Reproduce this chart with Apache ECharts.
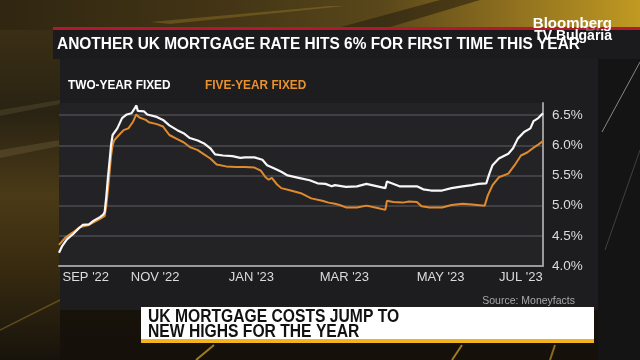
<!DOCTYPE html>
<html>
<head>
<meta charset="utf-8">
<style>
html,body{margin:0;padding:0;background:#17130c;}
#chart{width:640px;height:360px;}
</style>
<script src="https://cdn.jsdelivr.net/npm/echarts@6/dist/echarts.min.js"></script>
</head>
<body>
<div id="chart"></div>
<script>
// ---- Data ----
const titleText = 'ANOTHER UK MORTGAGE RATE HITS 6% FOR FIRST TIME THIS YEAR';
const bannerLines = ['UK MORTGAGE COSTS JUMP TO', 'NEW HIGHS FOR THE YEAR'];
const sourceText = 'Source: Moneyfacts';
const seriesNames = ['TWO-YEAR FIXED', 'FIVE-YEAR FIXED'];

const twoYearDates = [
  '2022-09-01','2022-09-03','2022-09-06','2022-09-10','2022-09-13','2022-09-16','2022-09-20','2022-09-23','2022-09-27','2022-09-29',
  '2022-09-30','2022-10-01','2022-10-02','2022-10-03','2022-10-04','2022-10-05','2022-10-08','2022-10-11','2022-10-14','2022-10-17',
  '2022-10-19','2022-10-20','2022-10-21','2022-10-25','2022-10-27','2022-11-02','2022-11-06','2022-11-10','2022-11-15','2022-11-19',
  '2022-11-23','2022-11-28','2022-12-02','2022-12-06','2022-12-09','2022-12-14','2022-12-20','2022-12-25','2022-12-28','2023-01-03',
  '2023-01-08','2023-01-11','2023-01-16','2023-01-20','2023-01-24','2023-01-31','2023-02-07','2023-02-12','2023-02-17','2023-02-21',
  '2023-02-23','2023-03-02','2023-03-09','2023-03-15','2023-03-22','2023-03-27','2023-03-28','2023-03-31','2023-04-05','2023-04-11',
  '2023-04-16','2023-04-20','2023-04-25','2023-05-02','2023-05-08','2023-05-15','2023-05-21','2023-05-25','2023-05-30','2023-06-01',
  '2023-06-03','2023-06-07','2023-06-13','2023-06-16','2023-06-19','2023-06-23','2023-06-27','2023-06-29','2023-07-02','2023-07-05'
];
const twoYearValues = [
  4.22,4.33,4.44,4.53,4.61,4.68,4.69,4.75,4.81,4.85,
  4.90,5.15,5.45,5.72,6.00,6.17,6.28,6.45,6.51,6.53,
  6.61,6.66,6.57,6.56,6.51,6.47,6.42,6.33,6.25,6.20,
  6.12,6.08,6.03,5.95,5.85,5.83,5.82,5.79,5.80,5.80,
  5.76,5.67,5.61,5.56,5.50,5.46,5.42,5.37,5.36,5.32,
  5.34,5.31,5.32,5.36,5.32,5.29,5.40,5.37,5.32,5.32,
  5.32,5.27,5.25,5.25,5.29,5.32,5.34,5.36,5.37,5.53,
  5.67,5.78,5.86,5.95,6.11,6.22,6.28,6.40,6.45,6.53
];

const fiveYearDates = [
  '2022-09-01','2022-09-05','2022-09-10','2022-09-14','2022-09-20','2022-09-27','2022-09-30','2022-10-01','2022-10-02','2022-10-03',
  '2022-10-04','2022-10-05','2022-10-06','2022-10-09','2022-10-12','2022-10-15','2022-10-18','2022-10-20','2022-10-22','2022-10-26',
  '2022-10-28','2022-11-02','2022-11-06','2022-11-10','2022-11-15','2022-11-19','2022-11-23','2022-11-28','2022-12-02','2022-12-06',
  '2022-12-10','2022-12-16','2022-12-22','2022-12-28','2023-01-03','2023-01-07','2023-01-10','2023-01-12','2023-01-14','2023-01-17',
  '2023-01-20','2023-01-26','2023-02-02','2023-02-08','2023-02-15','2023-02-19','2023-02-23','2023-02-26','2023-03-02','2023-03-09',
  '2023-03-15','2023-03-22','2023-03-27','2023-03-28','2023-04-01','2023-04-07','2023-04-11','2023-04-16','2023-04-19','2023-04-24',
  '2023-05-02','2023-05-08','2023-05-15','2023-05-21','2023-05-29','2023-05-31','2023-06-03','2023-06-07','2023-06-13','2023-06-17',
  '2023-06-21','2023-06-25','2023-06-29','2023-07-02','2023-07-05'
];
const fiveYearValues = [
  4.35,4.47,4.56,4.64,4.68,4.78,4.83,5.00,5.25,5.52,
  5.82,6.00,6.08,6.17,6.25,6.28,6.39,6.51,6.46,6.42,
  6.38,6.35,6.31,6.17,6.10,6.05,5.97,5.92,5.85,5.78,
  5.68,5.65,5.64,5.64,5.63,5.58,5.47,5.43,5.46,5.36,
  5.29,5.25,5.20,5.12,5.08,5.05,5.03,5.01,4.97,4.97,
  5.00,4.96,4.93,5.08,5.06,5.05,5.07,5.06,4.99,4.97,
  4.97,5.01,5.03,5.02,5.00,5.17,5.34,5.47,5.53,5.67,
  5.83,5.88,5.96,6.01,6.07
];

const xMin = '2022-09-01';
const xMax = '2023-07-05';
const xLabelDates = ['2022-09-18','2022-11-01','2023-01-01','2023-03-01','2023-05-01','2023-06-21'];
const xLabelTexts = ["SEP '22","NOV '22","JAN '23","MAR '23","MAY '23","JUL '23"];
const yMin = 4.0, yMax = 6.7, yInterval = 0.5;

// ---- Build ----
const ts = d => new Date(d + 'T00:00:00Z').getTime();
const twoData = twoYearDates.map((d, i) => [ts(d), twoYearValues[i]]);
const fiveData = fiveYearDates.map((d, i) => [ts(d), fiveYearValues[i]]);
const labelTs = xLabelDates.map(ts);

const SANS = "'Liberation Sans', Arial, sans-serif";

const chart = echarts.init(document.getElementById('chart'), null, {renderer: 'canvas'});

const lg = (x, y, x2, y2, stops) => ({type: 'linear', x, y, x2, y2, colorStops: stops.map(s => ({offset: s[0], color: s[1]}))});

const option = {
  backgroundColor: '#17130c',
  animation: false,
  grid: {
    left: 59, right: 97, top: 103, bottom: 94,
    show: true, backgroundColor: '#232326', borderWidth: 0
  },
  xAxis: {
    type: 'value',
    min: ts(xMin), max: ts(xMax),
    axisLine: {show: true, lineStyle: {color: '#9a9a9a', width: 2}},
    axisTick: {show: false},
    splitLine: {show: false},
    axisLabel: {
      customValues: labelTs,
      color: '#dcdcdc', fontFamily: SANS, fontSize: 13, margin: 5,
      hideOverlap: false,
      formatter: v => { const i = labelTs.indexOf(v); return i >= 0 ? xLabelTexts[i] : ''; }
    }
  },
  yAxis: {
    type: 'value', position: 'right',
    min: yMin, max: yMax, interval: yInterval,
    axisLine: {show: true, lineStyle: {color: '#9a9a9a', width: 2}},
    axisTick: {show: false},
    splitLine: {show: true, showMinLine: false, showMaxLine: false, lineStyle: {color: '#4c4c50', width: 1.5}},
    axisLabel: {
      showMaxLabel: false,
      color: '#dcdcdc', fontFamily: SANS, fontSize: 13.5, margin: 9,
      formatter: v => (Math.abs(v / yInterval - Math.round(v / yInterval)) < 1e-6) ? v.toFixed(1) + '%' : ''
    }
  },
  series: [
    {name: seriesNames[1], type: 'line', data: fiveData, showSymbol: false, symbol: 'none',
     lineStyle: {color: '#e08a2e', width: 2}, z: 3},
    {name: seriesNames[0], type: 'line', data: twoData, showSymbol: false, symbol: 'none',
     lineStyle: {color: '#f7f7f7', width: 2.2}, z: 4}
  ],
  graphic: [
    {type: 'rect', z: -100, silent: true, shape: {x: 0, y: 0, width: 640, height: 360},
     style: {fill: lg(0, 0, 0, 1, [[0, '#2a2110'], [0.4, '#1c170d'], [1, '#15110a']])}},
    {type: 'rect', z: -99, silent: true, shape: {x: 0, y: 0, width: 640, height: 30},
     style: {fill: lg(0, 0, 1, 0, [[0, '#302611'], [0.35, '#433515'], [0.6, '#5a481b'], [0.8, '#8f701f'], [1, '#c09a22']])}},
    {type: 'polygon', z: -98, silent: true, shape: {points: [[330, 30], [440, 0], [480, 0], [380, 30]]},
     style: {fill: 'rgba(35,28,14,0.55)'}},
    {type: 'polygon', z: -98, silent: true, shape: {points: [[150, 22], [330, 6], [345, 6], [170, 24]]},
     style: {fill: 'rgba(170,135,45,0.35)'}},
    {type: 'rect', z: -98, silent: true, shape: {x: 0, y: 30, width: 60, height: 330},
     style: {fill: lg(0, 0, 0, 1, [[0, '#3a2f15'], [0.25, '#2a2313'], [0.5, '#4a3a17'], [0.7, '#3a2c10'], [1, '#17130c']])}},
    {type: 'polygon', z: -97, silent: true, shape: {points: [[0, 150], [60, 140], [60, 146], [0, 158]]},
     style: {fill: 'rgba(120,100,60,0.35)'}},
    {type: 'polygon', z: -97, silent: true, shape: {points: [[0, 110], [60, 100], [60, 104], [0, 116]]},
     style: {fill: 'rgba(110,95,60,0.3)'}},
    {type: 'rect', z: -98, silent: true, shape: {x: 598, y: 58, width: 42, height: 302},
     style: {fill: '#141414'}},
    {type: 'line', z: -97, silent: true, shape: {x1: 640, y1: 62, x2: 602, y2: 132}, style: {stroke: 'rgba(230,230,230,0.55)', lineWidth: 1}},
    {type: 'line', z: -97, silent: true, shape: {x1: 640, y1: 150, x2: 605, y2: 250}, style: {stroke: 'rgba(200,200,200,0.25)', lineWidth: 1}},
    {type: 'line', z: -97, silent: true, shape: {x1: 214, y1: 345, x2: 196, y2: 360}, style: {stroke: 'rgba(220,170,40,0.7)', lineWidth: 2}},
    {type: 'line', z: -97, silent: true, shape: {x1: 462, y1: 345, x2: 452, y2: 360}, style: {stroke: 'rgba(220,170,40,0.7)', lineWidth: 2}},
    {type: 'line', z: -97, silent: true, shape: {x1: 555, y1: 345, x2: 550, y2: 360}, style: {stroke: 'rgba(220,170,40,0.6)', lineWidth: 2}},
    {type: 'line', z: -97, silent: true, shape: {x1: 0, y1: 330, x2: 60, y2: 300}, style: {stroke: 'rgba(200,160,50,0.35)', lineWidth: 1.5}},

    {type: 'rect', z: -50, silent: true, shape: {x: 60, y: 58, width: 538, height: 252},
     style: {fill: '#1d1d20'}},
    {type: 'rect', z: 5, silent: true, shape: {x: 53, y: 28, width: 587, height: 31}, style: {fill: '#1b1b1e'}},
    {type: 'rect', z: 6, silent: true, shape: {x: 53, y: 27, width: 587, height: 3}, style: {fill: '#b3182c'}},
    {type: 'text', z: 7, silent: true, x: 57, y: 45, scaleX: 0.965,
     style: {text: titleText, fill: '#ffffff', font: 'bold 16px ' + SANS, textVerticalAlign: 'middle'}},
    {type: 'text', z: 7, silent: true, x: 600, y: 27,
     style: {text: 'Bl', fill: 'rgba(200,200,200,0.35)', font: 'bold 15px ' + SANS, textAlign: 'right', textVerticalAlign: 'middle'}},
    {type: 'text', z: 8, silent: true, x: 612, y: 24,
     style: {text: 'Bloomberg', fill: '#ffffff', font: 'bold 15px ' + SANS, textAlign: 'right', textVerticalAlign: 'middle'}},
    {type: 'text', z: 8, silent: true, x: 612, y: 36,
     style: {text: 'TV Bulgaria', fill: '#ffffff', font: 'bold 14px ' + SANS, textAlign: 'right', textVerticalAlign: 'middle'}},
    {type: 'text', z: 7, silent: true, x: 68, y: 85, scaleX: 0.91,
     style: {text: seriesNames[0], fill: '#ffffff', font: 'bold 13px ' + SANS, textVerticalAlign: 'middle'}},
    {type: 'text', z: 7, silent: true, x: 205, y: 85, scaleX: 0.91,
     style: {text: seriesNames[1], fill: '#e8912f', font: 'bold 13px ' + SANS, textVerticalAlign: 'middle'}},
    {type: 'text', z: 7, silent: true, x: 575, y: 301,
     style: {text: sourceText, fill: '#a8a8a8', font: '10.5px ' + SANS, textAlign: 'right', textVerticalAlign: 'middle'}},
    {type: 'rect', z: 9, silent: true, shape: {x: 141, y: 307, width: 453, height: 36}, style: {fill: '#ffffff'}},
    {type: 'rect', z: 10, silent: true, shape: {x: 141, y: 339, width: 453, height: 4}, style: {fill: '#f1b41d'}},
    {type: 'text', z: 11, silent: true, x: 148, y: 317, scaleX: 0.87,
     style: {text: bannerLines[0], fill: '#111111', font: 'bold 18px ' + SANS, textVerticalAlign: 'middle'}},
    {type: 'text', z: 11, silent: true, x: 148, y: 332, scaleX: 0.87,
     style: {text: bannerLines[1], fill: '#111111', font: 'bold 18px ' + SANS, textVerticalAlign: 'middle'}}
  ]
};
chart.setOption(option);
</script>
</body>
</html>
